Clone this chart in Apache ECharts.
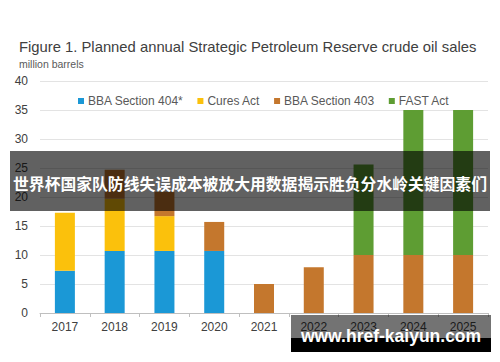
<!DOCTYPE html>
<html><head><meta charset="utf-8">
<script src="https://cdn.jsdelivr.net/npm/echarts@6/dist/echarts.min.js"></script>
<style>html,body{margin:0;padding:0;background:#fff}#c{width:500px;height:362px}</style>
</head><body><div id="c"></div>
<script>
var years = ['2017','2018','2019','2020','2021','2022','2023','2024','2025'];
var bba404 = [7.3, 10.7, 10.7, 10.7, 0, 0, 0, 0, 0];
var curesAct = [10, 9, 6, 0, 0, 0, 0, 0, 0];
var bba403 = [0, 5, 4.2, 5, 5, 7.9, 10, 10, 10];
var fastAct = [0, 0, 0, 0, 0, 0, 15.6, 25, 25];
var yTicks = [0, 5, 10, 15, 20, 25, 30, 35, 40];
var titleText = 'Figure 1. Planned annual Strategic Petroleum Reserve crude oil sales';
var unitText = 'million barrels';
var bannerText = '世界杯国家队防线失误成本被放大用数据揭示胜负分水岭关键因素们';
var siteText = 'www.href-kaiyun.com';

var chart = echarts.init(document.getElementById('c'), null, {renderer: 'svg'});
function ser(name, data, color) {
  return {name: name, type: 'bar', stack: 'total', barWidth: 20, data: data,
    itemStyle: {color: color}, emphasis: {disabled: true}};
}
chart.setOption({
  animation: false,
  backgroundColor: '#fff',
  textStyle: {fontFamily: 'Liberation Sans, Arial, sans-serif'},
  title: [
    {text: titleText, left: 14, top: 34, textStyle: {fontSize: 14.8, fontWeight: 'normal', color: '#404040'}},
    {text: unitText, left: 14, top: 53, textStyle: {fontSize: 10.5, fontWeight: 'normal', color: '#595959'}}
  ],
  legend: {
    left: 73, top: 90, itemWidth: 6, itemHeight: 6, itemGap: 14, icon: 'rect',
    textStyle: {fontSize: 12, color: '#595959', padding: [0, 0, 0, -1]},
    data: ['BBA Section 404*', 'Cures Act', 'BBA Section 403', 'FAST Act']
  },
  grid: {left: 40, right: 12, top: 81, bottom: 49},
  xAxis: {
    type: 'category', data: years,
    axisLine: {lineStyle: {color: '#bfbfbf'}},
    axisTick: {show: true, length: 4, lineStyle: {color: '#bfbfbf'}},
    axisLabel: {fontSize: 12, color: '#404040', margin: 8}
  },
  yAxis: {
    type: 'value', min: yTicks[0], max: yTicks[yTicks.length - 1], interval: 5,
    axisLine: {show: false}, axisTick: {show: false},
    splitLine: {lineStyle: {color: '#e3e3e3'}},
    axisLabel: {fontSize: 12, color: '#404040', margin: 12}
  },
  series: [
    ser('BBA Section 404*', bba404, '#1b98d6'),
    ser('Cures Act', curesAct, '#fbc10c'),
    ser('BBA Section 403', bba403, '#c4772d'),
    ser('FAST Act', fastAct, '#5e9d33')
  ],
  graphic: [
    {type: 'rect', shape: {x: 10, y: 151, width: 480, height: 60}, style: {fill: 'rgba(0,0,0,0.62)'}, z: 100},
    {type: 'text', x: 250, y: 183, z: 101, style: {text: bannerText, fill: '#fff', fontSize: 15.8, fontWeight: 'bold',
      fontFamily: 'Noto Sans CJK SC', align: 'center', verticalAlign: 'middle'}},
    {type: 'rect', shape: {x: 291, y: 315, width: 200, height: 23}, style: {fill: 'rgba(0,0,0,0.55)'}, z: 100},
    {type: 'rect', shape: {x: 291, y: 338, width: 200, height: 14}, style: {fill: '#000'}, z: 100},
    {type: 'text', x: 391, y: 336, z: 101, style: {text: siteText, fill: '#fff', fontSize: 17.5, fontWeight: 'bold',
      fontFamily: 'Liberation Sans', align: 'center', verticalAlign: 'middle'}}
  ]
});
</script></body></html>
